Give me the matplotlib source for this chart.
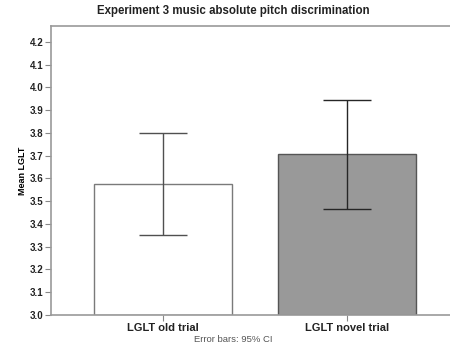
import matplotlib.pyplot as plt
import numpy as np

plt.rcParams["font.family"] = ["Liberation Sans", "DejaVu Sans"]

categories = ["LGLT old trial", "LGLT novel trial"]
means = [3.574, 3.707]
ci_low = [3.351, 3.468]
ci_high = [3.798, 3.946]
yticks = [3.0, 3.1, 3.2, 3.3, 3.4, 3.5, 3.6, 3.7, 3.8, 3.9, 4.0, 4.1, 4.2]

fills = ["white", "#999999"]
edges = ["#7a7a7a", "#555555"]
errcols = ["#505050", "#262626"]

fig = plt.figure(figsize=(4.5, 3.47), dpi=100)
# the plot area runs off the right edge of the picture, as in the source chart
ax = fig.add_axes([51 / 450, 32 / 347, 408 / 450, 289 / 347])

x = np.arange(len(categories))
ax.bar(x, [m - 3.0 for m in means], bottom=3.0, width=0.75,
       color=fills, edgecolor=edges, linewidth=1.0, zorder=2)
for i in range(len(categories)):
    ax.errorbar(x[i], means[i],
                yerr=[[means[i] - ci_low[i]], [ci_high[i] - means[i]]],
                fmt="none", ecolor=errcols[i], elinewidth=1.0,
                capsize=17, capthick=1.0, zorder=3)

ax.set_xlim(-0.609, 1.609)
ax.set_ylim(3.0, 4.27)
ax.set_yticks(yticks)
ax.set_yticklabels([f"{v:.1f}" for v in yticks], fontsize=7, fontweight="bold")
ax.set_xticks(x)
ax.set_xticklabels(categories, fontsize=8, fontweight="bold")
ax.tick_params(axis="both", colors="#888888", length=4, width=0.8,
               labelcolor="#222222", pad=1.5)
ax.set_ylabel("Mean LGLT", fontsize=6.5, fontweight="bold", labelpad=2)

for side in ("left", "bottom", "top"):
    ax.spines[side].set_color("#999999")
    ax.spines[side].set_linewidth(1.2)
ax.spines["right"].set_visible(False)

fig.text(233 / 450, 1 - 11 / 347, "Experiment 3 music absolute pitch discrimination",
         ha="center", va="center", fontsize=8.3, fontweight="bold", color="#222222")
fig.text(233 / 450, 1 - 339 / 347, "Error bars: 95% CI",
         ha="center", va="center", fontsize=6.8, color="#555555")

fig.savefig("out.png", dpi=100)
